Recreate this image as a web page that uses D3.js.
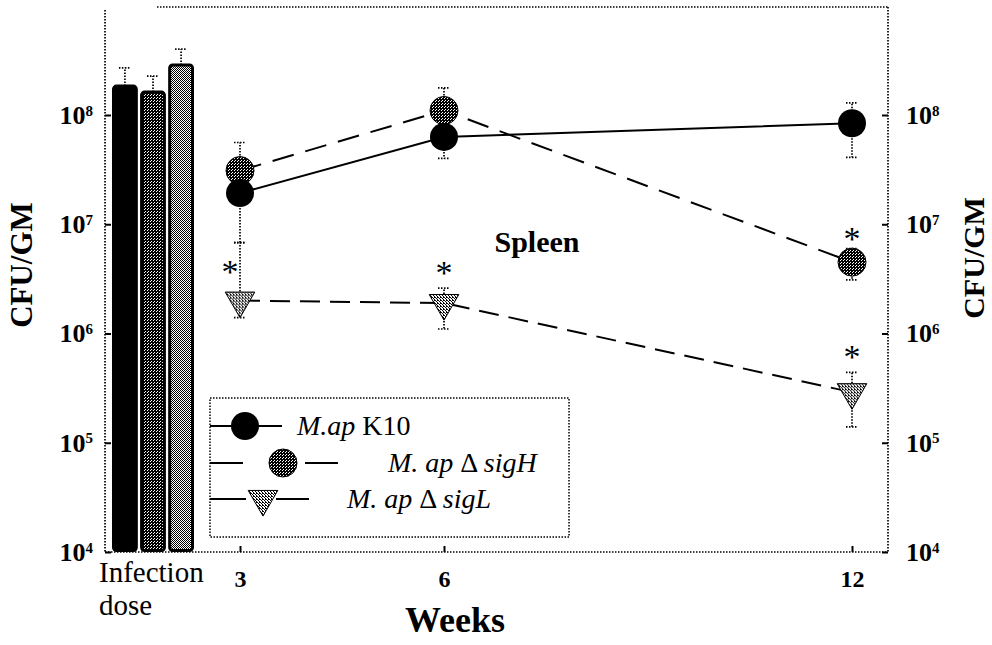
<!DOCTYPE html>
<html>
<head>
<meta charset="utf-8">
<script src="https://cdn.jsdelivr.net/npm/d3@7/dist/d3.min.js"></script>
<style>
  html, body { margin: 0; padding: 0; background: #fff; }
  svg { display: block; }
  text { font-family: "Liberation Serif", "Times New Roman", "DejaVu Serif", serif; fill: #000; }
</style>
</head>
<body>
<svg id="chart" width="992" height="645" font-family="Liberation Serif"></svg>
<script>
// ---------------- data ----------------
const weeks = [3, 6, 12];
const weekLabels = ["3", "6", "12"];
const yTicks = [1e4, 1e5, 1e6, 1e7, 1e8];
const yTickExp = ["4", "5", "6", "7", "8"];

const seriesNames = ["M.ap K10", "M. ap Δ sigH", "M. ap Δ sigL"];

// Infection dose bars
const doseValues = [1.84e8, 1.62e8, 2.87e8];
const doseErrHi = [2.7e8, 2.27e8, 4.0e8];

// K10
const k10 = [1.93e7, 6.3e7, 8.4e7];
const k10Lo = [6.8e6, 4.0e7, 4.1e7];
const k10Hi = [2.6e7, 8.0e7, 1.29e8];
// sigH
const sigH = [3.1e7, 1.1e8, 4.5e6];
const sigHLo = [2.5e7, 9.0e7, 3.1e6];
const sigHHi = [5.6e7, 1.77e8, 6.0e6];
// sigL
const sigL = [2.0e6, 1.9e6, 2.9e5];
const sigLLo = [1.4e6, 1.1e6, 1.4e5];
const sigLHi = [6.8e6, 2.6e6, 4.4e5];

// significance stars: week indices
const starsSigH = [2];
const starsSigL = [0, 1, 2];

// ---------------- layout ----------------
const FONT = "Liberation Serif, Times New Roman, serif";
const svg = d3.select("#chart");
const yBottom = 552, y8 = 115;
const y = d3.scaleLog().domain([1e4, 1e8]).range([yBottom, y8]);
const x = d3.scaleLinear().domain([3, 12]).range([240, 852]);
const xb = d3.scaleBand().domain([0, 1, 2]).range([112, 194]).paddingInner(0.08);

const leftX = 105, rightX = 888, topY = 7;

// patterns
const defs = svg.append("defs");
function checker(id, bg, fg, cells, size) {
  const p = defs.append("pattern").attr("id", id).attr("patternUnits", "userSpaceOnUse")
    .attr("width", size).attr("height", size);
  p.append("rect").attr("width", size).attr("height", size).attr("fill", bg);
  cells.forEach(c => p.append("rect").attr("x", c[0]).attr("y", c[1]).attr("width", 1).attr("height", 1).attr("fill", fg));
}
checker("patDark", "#000", "#fff", [[1, 1], [0, 2]], 3);
checker("patLight", "#fff", "#000", [[0, 0], [1, 1]], 2);
checker("patMid", "#fff", "#000", [[0, 0], [1, 1], [2, 2], [0, 2]], 3);

const barFills = ["#000", "url(#patDark)", "url(#patLight)"];

// frame (dotted)
const dot = "1.5,1.5";
const frame = svg.append("g").attr("stroke", "#000").attr("stroke-width", 1.7).attr("stroke-dasharray", dot).attr("fill", "none");
frame.append("line").attr("x1", leftX).attr("x2", leftX).attr("y1", 10).attr("y2", yBottom);
frame.append("line").attr("x1", leftX).attr("x2", rightX).attr("y1", yBottom).attr("y2", yBottom);
frame.append("line").attr("x1", rightX).attr("x2", rightX).attr("y1", topY).attr("y2", yBottom);
frame.append("line").attr("x1", 157).attr("x2", rightX).attr("y1", topY).attr("y2", topY);

// axes
function fmt(g, exps) {
  g.selectAll(".tick text").each(function (d) {
    const t = d3.select(this);
    t.text(null);
    t.append("tspan").text("10");
    t.append("tspan").attr("dy", "-0.55em").attr("font-size", "15px").text(exps[yTicks.indexOf(d)]);
  });
}
function styleAxis(g, size) {
  g.attr("font-family", FONT);
  g.select(".domain").remove();
  g.selectAll(".tick line").attr("stroke", "#000").attr("stroke-width", 2);
  g.selectAll(".tick text").attr("font-size", size).attr("font-weight", "bold").attr("font-family", FONT);
}
const axL = svg.append("g").attr("transform", `translate(${leftX},0)`)
  .call(d3.axisLeft(y).tickValues(yTicks).tickSize(-6).tickPadding(12));
styleAxis(axL, "26px");
fmt(axL, yTickExp);

const axR = svg.append("g").attr("transform", `translate(${rightX},0)`)
  .call(d3.axisRight(y).tickValues(yTicks).tickSize(-6).tickPadding(18));
styleAxis(axR, "26px");
fmt(axR, yTickExp);

const axB = svg.append("g").attr("transform", `translate(0,${yBottom})`)
  .call(d3.axisBottom(x).tickValues(weeks).tickFormat((d, i) => weekLabels[i]).tickSize(-6).tickPadding(18));
styleAxis(axB, "24px");

// axis titles
function txt(attrs, s) {
  const t = svg.append("text").attr("font-family", FONT);
  Object.entries(attrs).forEach(([k, v]) => t.attr(k, v));
  return t.text(s);
}
txt({ transform: "translate(32,265) rotate(-90)", "text-anchor": "middle", "font-size": "31px", "font-weight": "bold" }, "CFU/GM");
txt({ transform: "translate(984,258) rotate(-90)", "text-anchor": "middle", "font-size": "30px", "font-weight": "bold" }, "CFU/GM");
txt({ x: 455, y: 632, "text-anchor": "middle", "font-size": "36px", "font-weight": "bold" }, "Weeks");
txt({ x: 99, y: 582, "font-size": "29px" }, "Infection");
txt({ x: 99, y: 615, "font-size": "29px" }, "dose");
txt({ x: 537, y: 252, "text-anchor": "middle", "font-size": "30px", "font-weight": "bold" }, "Spleen");

// bars
const bars = svg.append("g");
doseValues.forEach((v, i) => {
  const bx = xb(i), bw = xb.bandwidth();
  bars.append("line").attr("x1", bx + bw / 2).attr("x2", bx + bw / 2).attr("y1", y(v)).attr("y2", y(doseErrHi[i]))
    .attr("stroke", "#000").attr("stroke-width", 1.7).attr("stroke-dasharray", dot);
  bars.append("line").attr("x1", bx + bw / 2 - 6).attr("x2", bx + bw / 2 + 6).attr("y1", y(doseErrHi[i])).attr("y2", y(doseErrHi[i]))
    .attr("stroke", "#000").attr("stroke-width", 1.7).attr("stroke-dasharray", dot);
  bars.append("rect").attr("x", bx + 1.5).attr("y", y(v)).attr("width", bw - 3).attr("height", yBottom - y(v) - 1.5)
    .attr("rx", 3).attr("fill", barFills[i]).attr("stroke", "#000").attr("stroke-width", 3);
});

// error bars for series
function errBars(vals, lo, hi) {
  const g = svg.append("g").attr("stroke", "#000").attr("stroke-width", 1.7).attr("stroke-dasharray", dot);
  vals.forEach((v, i) => {
    const cx = x(weeks[i]);
    [lo[i], hi[i]].forEach(e => {
      g.append("line").attr("x1", cx).attr("x2", cx).attr("y1", y(v)).attr("y2", y(e));
      g.append("line").attr("x1", cx - 6).attr("x2", cx + 6).attr("y1", y(e)).attr("y2", y(e));
    });
  });
}
errBars(k10, k10Lo, k10Hi);
errBars(sigH, sigHLo, sigHHi);
errBars(sigL, sigLLo, sigLHi);

// lines
const line = d3.line().x((d, i) => x(weeks[i])).y(d => y(d));
svg.append("path").datum(sigL).attr("d", line).attr("fill", "none").attr("stroke", "#000")
  .attr("stroke-width", 2).attr("stroke-dasharray", "20,10");
svg.append("path").datum(sigH).attr("d", line).attr("fill", "none").attr("stroke", "#000")
  .attr("stroke-width", 2).attr("stroke-dasharray", "22,12");
svg.append("path").datum(k10).attr("d", line).attr("fill", "none").attr("stroke", "#000")
  .attr("stroke-width", 2);

// markers
const tri = d3.symbol().type(d3.symbolTriangle).size(380);
sigL.forEach((v, i) => {
  svg.append("path").attr("d", tri()).attr("transform", `translate(${x(weeks[i])},${y(v)}) rotate(180)`)
    .attr("fill", "url(#patMid)").attr("stroke", "#000").attr("stroke-width", 1);
});
sigH.forEach((v, i) => {
  svg.append("circle").attr("cx", x(weeks[i])).attr("cy", y(v)).attr("r", 14)
    .attr("fill", "url(#patDark)").attr("stroke", "#000").attr("stroke-width", 1);
});
k10.forEach((v, i) => {
  svg.append("circle").attr("cx", x(weeks[i])).attr("cy", y(v)).attr("r", 14).attr("fill", "#000");
});

// stars
function star(cx, cy) {
  svg.append("text").attr("x", cx).attr("y", cy + 14).attr("text-anchor", "middle")
    .attr("font-size", "34px").attr("font-family", "DejaVu Sans, sans-serif").text("*");
}
starsSigH.forEach(i => star(x(weeks[i]), y(sigHHi[i]) - 12));
starsSigL.forEach(i => star(x(weeks[i]) - (i === 0 ? 10 : 0), y(sigLHi[i]) - (i === 0 ? -26 : 18)));

// legend
const lg = svg.append("g");
lg.append("rect").attr("x", 210).attr("y", 398).attr("width", 359).attr("height", 139)
  .attr("fill", "#fff").attr("stroke", "#000").attr("stroke-width", 1.5).attr("stroke-dasharray", dot);
const legRows = [
  { y: 426, segs: [[210, 282]], mx: 245, kind: "k10", tx: 297 },
  { y: 463, segs: [[210, 243], [305, 338]], mx: 283, kind: "sigH", tx: 388 },
  { y: 499, segs: [[210, 246], [276, 309]], mx: 263, kind: "sigL", tx: 347 }
];
legRows.forEach((r, i) => {
  r.segs.forEach(s => lg.append("line").attr("x1", s[0]).attr("x2", s[1]).attr("y1", r.y).attr("y2", r.y)
    .attr("stroke", "#000").attr("stroke-width", 2));
  if (r.kind === "k10") lg.append("circle").attr("cx", r.mx).attr("cy", r.y).attr("r", 14).attr("fill", "#000");
  if (r.kind === "sigH") lg.append("circle").attr("cx", r.mx).attr("cy", r.y).attr("r", 14).attr("fill", "url(#patDark)").attr("stroke", "#000");
  if (r.kind === "sigL") lg.append("path").attr("d", tri()).attr("transform", `translate(${r.mx},${r.y}) rotate(180)`)
    .attr("fill", "url(#patMid)").attr("stroke", "#000");
  const t = lg.append("text").attr("x", r.tx).attr("y", r.y + 9).attr("font-size", "28px").attr("font-family", FONT);
  if (i === 0) {
    t.append("tspan").attr("font-style", "italic").text("M.ap");
    t.append("tspan").text(" K10");
  } else {
    t.append("tspan").attr("font-style", "italic").text("M. ap");
    t.append("tspan").text(" Δ ");
    t.append("tspan").attr("font-style", "italic").text(i === 1 ? "sigH" : "sigL");
  }
});
</script>
</body>
</html>
